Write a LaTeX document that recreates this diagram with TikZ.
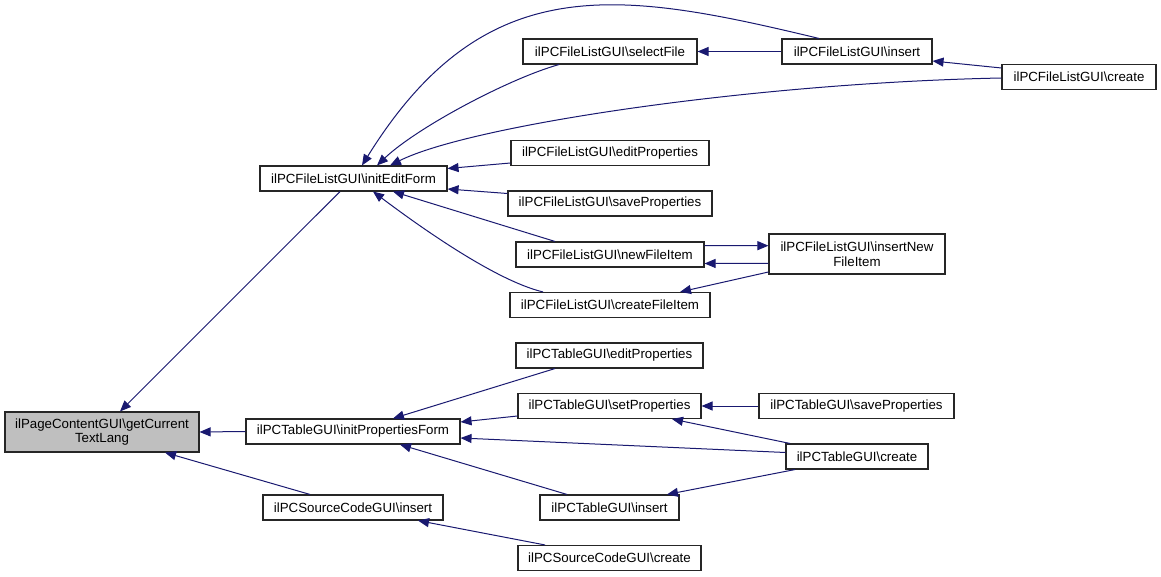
\documentclass[tikz,border=0pt]{standalone}
\usepackage{fontspec}
\setmainfont{Liberation Sans}
\usetikzlibrary{arrows.meta}
\definecolor{edgeblue}{HTML}{191970}
\definecolor{boxgray}{HTML}{BFBFBF}
\tikzset{
  box/.style={draw=black!85, line width=1.1pt, fill=white, inner sep=0pt, minimum height=25pt,
    font=\fontsize{13.3}{14.5}\selectfont, align=center},
  edge/.style={draw=edgeblue, line width=1pt, {Triangle[length=11pt,width=9pt]}-},
}
\begin{document}
\begin{tikzpicture}[x=1pt,y=-1pt]
\useasboundingbox (0,0) rectangle (1161,577);
% nodes
\node[box, fill=boxgray, minimum width=194pt, minimum height=40pt] (gct) at (102,432) {ilPageContentGUI\textbackslash getCurrent\\TextLang};
\node[box, minimum width=187pt] (ief) at (353.5,178.5) {ilPCFileListGUI\textbackslash initEditForm};
\node[box, minimum width=214pt] (ipf) at (353,431.5) {ilPCTableGUI\textbackslash initPropertiesForm};
\node[box, minimum width=180pt] (sci) at (353,507.5) {ilPCSourceCodeGUI\textbackslash insert};
\node[box, minimum width=174pt] (sel) at (610,51.5) {ilPCFileListGUI\textbackslash selectFile};
\node[box, minimum width=198pt] (fep) at (610,153) {ilPCFileListGUI\textbackslash editProperties};
\node[box, minimum width=204pt] (fsp) at (610,203.5) {ilPCFileListGUI\textbackslash saveProperties};
\node[box, minimum width=188pt] (nfi) at (610,254.5) {ilPCFileListGUI\textbackslash newFileItem};
\node[box, minimum width=200pt] (cfi) at (610,305) {ilPCFileListGUI\textbackslash createFileItem};
\node[box, minimum width=187pt] (tep) at (609.5,355.5) {ilPCTableGUI\textbackslash editProperties};
\node[box, minimum width=183pt] (tsp) at (609.5,406) {ilPCTableGUI\textbackslash setProperties};
\node[box, minimum width=139pt] (tin) at (609.5,507.5) {ilPCTableGUI\textbackslash insert};
\node[box, minimum width=183pt] (scc) at (609.5,558) {ilPCSourceCodeGUI\textbackslash create};
\node[box, minimum width=150pt] (fin) at (857,51.5) {ilPCFileListGUI\textbackslash insert};
\node[box, minimum width=176pt, minimum height=40pt] (infi) at (857,254) {ilPCFileListGUI\textbackslash insertNew\\FileItem};
\node[box, minimum width=195pt] (tssp) at (856.5,406) {ilPCTableGUI\textbackslash saveProperties};
\node[box, minimum width=142pt] (tcr) at (857,456.5) {ilPCTableGUI\textbackslash create};
\node[box, minimum width=154pt] (fcr) at (1079,77) {ilPCFileListGUI\textbackslash create};
% edges (arrow tip at the callee)
\draw[edge] ([xshift=18pt]gct.north) -- ([xshift=-13.5pt]ief.south);
\draw[edge] (gct.east) -- (ipf.west);
\draw[edge] ([xshift=63pt]gct.south) -- ([xshift=-43pt]sci.north);
\draw[edge] ([xshift=23.5pt]ief.north) .. controls +(40,-38) and +(-50,14) .. ([xshift=-51pt]sel.south);
\draw[edge] ([xshift=8.5pt]ief.north) .. controls +(123,-198) and +(-200,-48) .. ([xshift=-38pt]fin.north);
\draw[edge] ([xshift=36.5pt]ief.north) .. controls +(80,-40) and +(-250,5) .. ([yshift=-1pt]fcr.west);
\draw[edge] ([yshift=10pt]ief.east) -- ([yshift=-10pt]fep.west);
\draw[edge] ([yshift=-10.5pt]ief.east) -- ([yshift=10pt]fsp.west);
\draw[edge] ([xshift=39.5pt]ief.south) -- ([xshift=-55pt]nfi.north);
\draw[edge] ([xshift=19.5pt]ief.south) .. controls +(40,30) and +(-50,-12) .. ([xshift=-67pt]cfi.north);
\draw[edge] (sel.east) -- (fin.west);
\draw[edge] ([yshift=-9.5pt]fin.east) -- ([yshift=9pt]fcr.west);
\draw[edge] ([yshift=8.3pt]infi.west) -- ([yshift=9pt]nfi.east);
\draw[edge] ([yshift=-9pt]nfi.east) -- ([yshift=-9.3pt]infi.west);
\draw[edge] ([xshift=70pt]cfi.north) -- ([yshift=-18pt]infi.west);
\draw[edge] ([xshift=40pt]ipf.north) -- ([xshift=-54.5pt]tep.south);
\draw[edge] ([yshift=9.5pt]ipf.east) -- ([yshift=-10pt]tsp.west);
\draw[edge] ([yshift=-6.5pt]ipf.east) -- ([yshift=4pt]tcr.west);
\draw[edge] ([xshift=47pt]ipf.south) -- ([xshift=-42.5pt]tin.north);
\draw[edge] (tsp.east) -- (tssp.west);
\draw[edge] ([xshift=62.5pt]tsp.south) -- ([xshift=-67pt]tcr.north);
\draw[edge] ([xshift=57.5pt]tin.north) -- ([xshift=-62pt]tcr.south);
\draw[edge] ([xshift=65pt]sci.south) -- ([xshift=-64.5pt]scc.north);
\end{tikzpicture}
\end{document}
